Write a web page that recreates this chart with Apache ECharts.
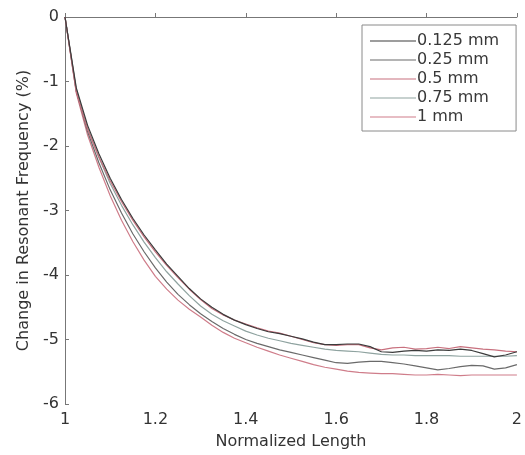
<!DOCTYPE html>
<html>
<head>
<meta charset="utf-8">
<script src="https://cdn.jsdelivr.net/npm/echarts@6/dist/echarts.min.js"></script>
<style>
  html, body { margin: 0; padding: 0; background: #fff; }
  #chart { width: 525px; height: 455px; }
</style>
</head>
<body>
<div id="chart"></div>
<script>
// Normalized length samples (x axis)
const lengths = [
  1.000, 1.025, 1.050, 1.075, 1.100, 1.125, 1.150, 1.175, 1.200, 1.225,
  1.250, 1.275, 1.300, 1.325, 1.350, 1.375, 1.400, 1.425, 1.450, 1.475,
  1.500, 1.525, 1.550, 1.575, 1.600, 1.625, 1.650, 1.675, 1.700, 1.725,
  1.750, 1.775, 1.800, 1.825, 1.850, 1.875, 1.900, 1.925, 1.950, 1.975, 2.000
];

// Change in resonant frequency (%) for each defect size
const d0125 = [
  0, -1.10, -1.68, -2.12, -2.50, -2.83, -3.12, -3.38, -3.61, -3.83,
  -4.02, -4.21, -4.37, -4.50, -4.61, -4.70, -4.77, -4.83, -4.88, -4.91,
  -4.95, -4.99, -5.04, -5.08, -5.08, -5.07, -5.07, -5.11, -5.19, -5.20,
  -5.18, -5.17, -5.18, -5.16, -5.17, -5.15, -5.17, -5.22, -5.27, -5.24, -5.19
];
const d025 = [
  0, -1.15, -1.78, -2.26, -2.68, -3.04, -3.36, -3.64, -3.89, -4.11,
  -4.30, -4.46, -4.60, -4.72, -4.83, -4.92, -5.00, -5.06, -5.11, -5.16,
  -5.20, -5.24, -5.28, -5.32, -5.36, -5.37, -5.35, -5.34, -5.34, -5.36,
  -5.38, -5.41, -5.44, -5.47, -5.45, -5.42, -5.40, -5.41, -5.46, -5.44, -5.39
];
const d05 = [
  0, -1.16, -1.74, -2.17, -2.54, -2.86, -3.15, -3.41, -3.64, -3.85,
  -4.04, -4.22, -4.38, -4.52, -4.62, -4.70, -4.76, -4.82, -4.87, -4.90,
  -4.95, -5.00, -5.05, -5.08, -5.09, -5.08, -5.08, -5.13, -5.16, -5.13,
  -5.12, -5.15, -5.14, -5.12, -5.14, -5.11, -5.13, -5.15, -5.16, -5.18, -5.19
];
const d075 = [
  0, -1.12, -1.72, -2.18, -2.58, -2.92, -3.22, -3.49, -3.73, -3.95,
  -4.14, -4.32, -4.48, -4.61, -4.71, -4.79, -4.87, -4.93, -4.98, -5.02,
  -5.06, -5.09, -5.12, -5.15, -5.17, -5.18, -5.19, -5.21, -5.23, -5.24,
  -5.24, -5.25, -5.25, -5.25, -5.25, -5.26, -5.26, -5.26, -5.26, -5.26, -5.25
];
const d1 = [
  0, -1.18, -1.83, -2.33, -2.77, -3.15, -3.48, -3.77, -4.02, -4.22,
  -4.39, -4.53, -4.65, -4.78, -4.89, -4.98, -5.05, -5.12, -5.18, -5.24,
  -5.29, -5.34, -5.39, -5.43, -5.46, -5.49, -5.51, -5.52, -5.53, -5.53,
  -5.54, -5.55, -5.55, -5.54, -5.55, -5.56, -5.55, -5.55, -5.55, -5.55, -5.55
];

const seriesNames = ['0.125 mm', '0.25 mm', '0.5 mm', '0.75 mm', '1 mm'];
const seriesValues = [d0125, d025, d05, d075, d1];
const seriesColors = ['#3c3c3c', '#6a6a6a', '#c8707e', '#8fa3a0', '#cf7d8a'];

const xTicks = [1, 1.2, 1.4, 1.6, 1.8, 2];
const yTicks = [0, -1, -2, -3, -4, -5, -6];

const font = 'DejaVu Sans, Verdana, sans-serif';
const chart = echarts.init(document.getElementById('chart'), null, { renderer: 'canvas' });

chart.setOption({
  backgroundColor: '#ffffff',
  animation: false,
  grid: { left: 65, right: 5, top: 17, bottom: 45, containLabel: false },
  legend: {
    orient: 'vertical',
    left: 362,
    top: 25,
    padding: [8, 17, 6, 8],
    itemGap: 3,
    itemWidth: 46,
    itemHeight: 1,
    icon: 'rect',
    borderColor: '#8a8a8a',
    borderWidth: 1,
    backgroundColor: '#ffffff',
    textStyle: { fontFamily: font, fontSize: 16, color: '#383838', padding: [0, 0, 0, -4] },
    data: seriesNames
  },
  xAxis: {
    type: 'value',
    min: 1,
    max: 2,
    interval: 0.2,
    name: 'Normalized Length',
    nameLocation: 'middle',
    nameGap: 30,
    nameTextStyle: { fontFamily: font, fontSize: 16, color: '#333' },
    axisLine: { lineStyle: { color: '#777', width: 1 } },
    axisTick: { inside: true, length: 4, lineStyle: { color: '#777' } },
    axisLabel: {
      fontFamily: font, fontSize: 16, color: '#333', margin: 8,
      formatter: v => xTicks.some(t => Math.abs(t - v) < 1e-6) ? String(+v.toFixed(1)) : ''
    },
    splitLine: { show: false }
  },
  yAxis: {
    type: 'value',
    min: -6,
    max: 0,
    interval: 1,
    name: 'Change in Resonant Frequency (%)',
    nameLocation: 'middle',
    nameGap: 30,
    nameTextStyle: { fontFamily: font, fontSize: 16, color: '#333' },
    axisLine: { show: true, lineStyle: { color: '#777', width: 1 } },
    axisTick: { show: true, inside: true, length: 4, lineStyle: { color: '#777' } },
    axisLabel: {
      fontFamily: font, fontSize: 16, color: '#333', margin: 6,
      formatter: v => yTicks.includes(v) ? String(v) : ''
    },
    splitLine: { show: false }
  },
  series: seriesNames.map((name, i) => ({
    name: name,
    type: 'line',
    data: lengths.map((x, k) => [x, seriesValues[i][k]]),
    showSymbol: false,
    symbol: 'none',
    smooth: false,
    color: seriesColors[i],
    lineStyle: { width: 1.2, color: seriesColors[i] },
    z: [5, 3, 4, 2, 1][i]
  }))
});
</script>
</body>
</html>
